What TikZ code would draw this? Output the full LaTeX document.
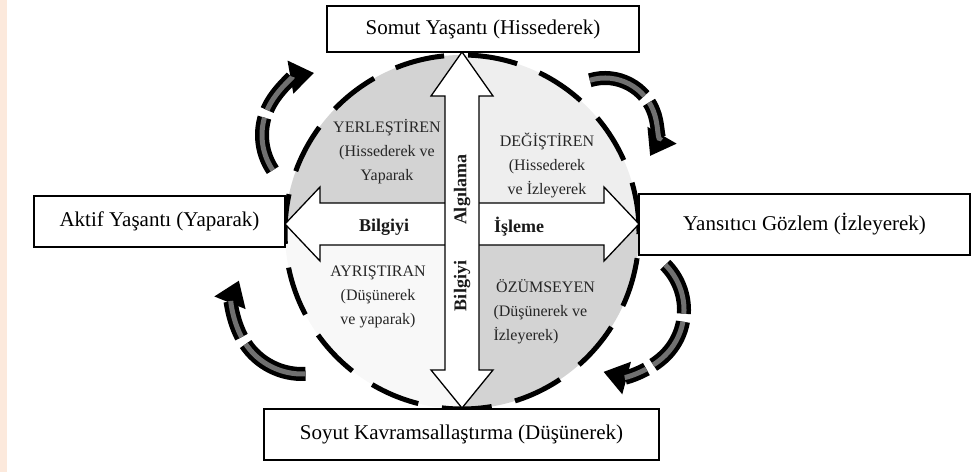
\documentclass[tikz,border=0pt]{standalone}
\usepackage{fontspec}
\setmainfont{Liberation Serif}
\usetikzlibrary{arrows.meta}

\definecolor{peach}{RGB}{252,233,220}
\definecolor{qdark}{RGB}{211,211,211}
\definecolor{qlight}{RGB}{238,238,238}
\definecolor{qwhite}{RGB}{248,248,248}
\definecolor{cycgray}{RGB}{112,112,112}

\begin{document}
\begin{tikzpicture}[x=1pt,y=1pt,
  box/.style={draw, line width=2.4pt, fill=white, inner sep=0pt,
    font=\fontsize{21}{25}\selectfont},
  quad/.style={align=center, text=black!85, font=\fontsize{16}{24}\selectfont},
  lbl/.style={text=black!90, font=\bfseries\fontsize{18}{22}\selectfont},
  ring/.style={line width=5pt, dash pattern=on 50pt off 24pt},
  bigarrow/.style={fill=white, draw=black, line width=1.3pt, line join=miter},
  cycout/.style={line width=14pt, -{Triangle[length=24pt,width=32pt]}},
  cycin/.style={line width=5pt, cycgray, shorten >=22pt}]
\useasboundingbox (0,0) rectangle (973,472);
\fill[peach] (0,0) rectangle (7,472);

% quadrants
\begin{scope}
  \clip (462,240) circle (177);
  \fill[qdark] (462,248) rectangle (280,420);
  \fill[qlight] (462,248) rectangle (645,420);
  \fill[qwhite] (462,248) rectangle (280,60);
  \fill[qdark] (462,248) rectangle (645,60);
\end{scope}
\draw[ring] (462,240) circle (177);

% double arrows
\filldraw[bigarrow] (285,248) -- (320,285) -- (320,269) -- (604,269) -- (604,285)
  -- (639,248) -- (604,211) -- (604,227) -- (320,227) -- (320,211) -- cycle;
\filldraw[bigarrow] (462,420) -- (493,376) -- (479,376) -- (479,102) -- (493,102)
  -- (462,64) -- (431,102) -- (445,102) -- (445,376) -- (431,376) -- cycle;

% boxes
\node[box, minimum width=312pt, minimum height=46pt] (somut) at (483,443) {Somut Yaşantı (Hissederek)};
\node[box, minimum width=251pt, minimum height=51pt] (aktif) at (159.5,250.5) {Aktif Yaşantı (Yaparak)};
\node[box, minimum width=331pt, minimum height=61pt] (yansit) at (804.5,247.5) {Yansıtıcı Gözlem (İzleyerek)};
\node[box, minimum width=395pt, minimum height=51pt] (soyut) at (461.5,37.5) {Soyut Kavramsallaştırma (Düşünerek)};

% labels
\node[quad] (yerl) at (387,320) {YERLEŞTİREN\\(Hissederek ve\\Yaparak};
\node[quad] (degis) at (547,307) {DEĞİŞTİREN\\(Hissederek\\ve İzleyerek};
\node[quad] (ayris) at (378,175) {AYRIŞTIRAN\\(Düşünerek\\ve yaparak)};
\node[quad, align=left, anchor=west] (ozum) at (490,160) {\,ÖZÜMSEYEN\\(Düşünerek ve\\İzleyerek)};
\node[lbl] (bilgih) at (384,245) {Bilgiyi};
\node[lbl] (isleme) at (519,245) {İşleme};
\node[lbl, rotate=90] (algi) at (462,282) {Algılama};
\node[lbl, rotate=90] (bilgiv) at (462,186) {Bilgiyi};

% cycle arrows
\foreach \cx/\cy/\r/\a/\b/\d in {325/337/63/214/100/55, 605/342/52/107/-30/60,
  620/162/64/45/-105/54, 302/166/68/273/158/70}
{
  \draw[cycout, dash pattern=on \d pt off 8pt] (\cx,\cy) ++(\a:\r) arc[start angle=\a, end angle=\b, radius=\r];
  \draw[cycin, dash pattern=on \d pt off 8pt] (\cx,\cy) ++(\a:\r) arc[start angle=\a, end angle=\b, radius=\r];
}
\end{tikzpicture}
\end{document}
